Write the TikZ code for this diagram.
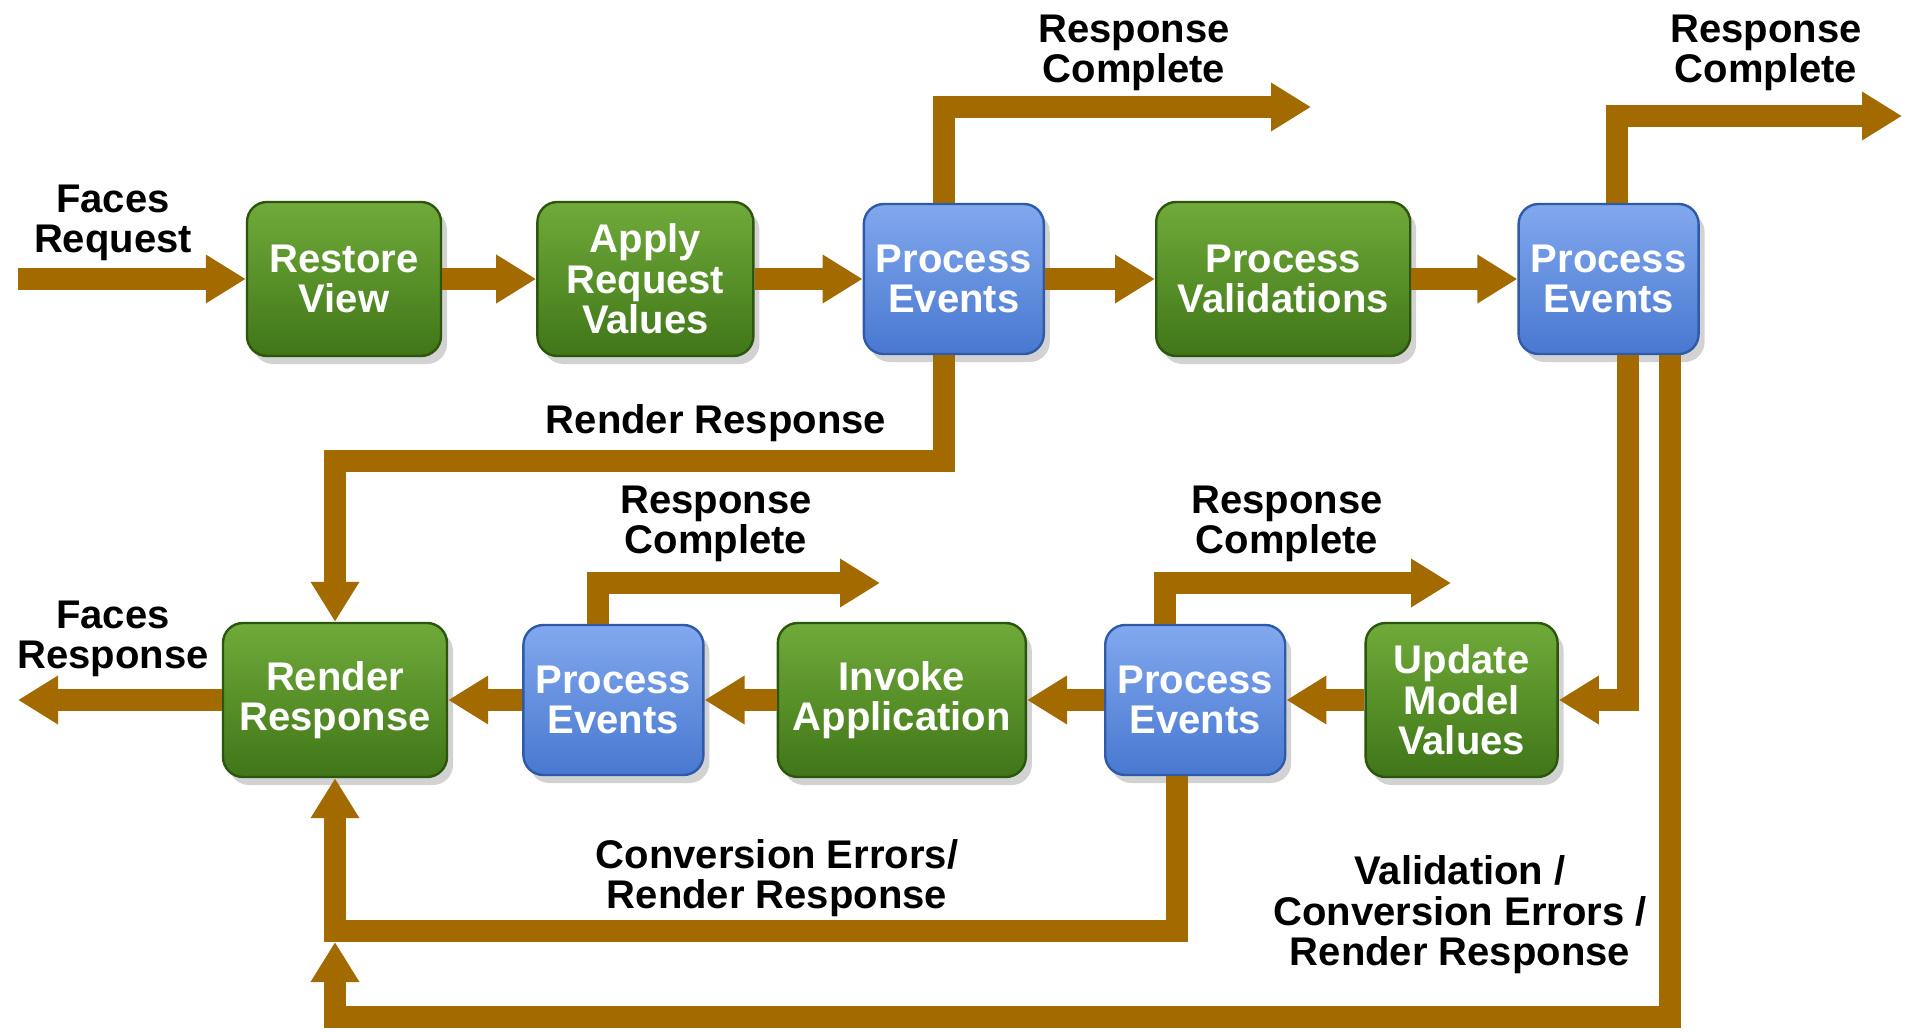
\documentclass[tikz,border=0pt]{standalone}
\usepackage{fontspec}
\setmainfont{Liberation Sans}
\usetikzlibrary{positioning,arrows.meta,shadows}

\definecolor{flowbrown}{RGB}{163,106,0}
\definecolor{phasetop}{RGB}{112,170,58}
\definecolor{phasebot}{RGB}{64,118,24}
\definecolor{phaseline}{RGB}{44,86,14}
\definecolor{eventtop}{RGB}{130,168,238}
\definecolor{eventbot}{RGB}{72,120,208}
\definecolor{eventline}{RGB}{46,90,168}

\tikzset{
  box/.style={rounded corners=10pt, line width=1.2pt, align=center, text=white,
    font=\bfseries\fontsize{20}{20.3}\selectfont, inner sep=4pt,
    drop shadow={shadow xshift=3pt, shadow yshift=-4pt, opacity=0.35}},
  phase/.style={box, draw=phaseline, top color=phasetop, bottom color=phasebot,
    minimum height=77pt},
  events/.style={box, draw=eventline, top color=eventtop, bottom color=eventbot,
    minimum height=75pt, minimum width=90pt},
  note/.style={align=center, font=\bfseries\fontsize{20}{20.3}\selectfont},
  flow/.style={draw=flowbrown, line width=11pt, -{Triangle[width=23pt,length=20pt]}},
}

\begin{document}
\begin{tikzpicture}[x=0.5pt,y=-0.5pt]
    \useasboundingbox[fill=white] (0,0) rectangle (1912,1032);

    % Top row
    \node[phase, minimum width=97pt]                    (rv)  at (344,279) {Restore\\View};
    \node[phase, minimum width=108pt, right=47pt of rv]  (arv) {Apply\\Request\\Values};
    \node[events, right=54pt of arv]                    (pe1) {Process\\Events};
    \node[phase, minimum width=127pt, right=55pt of pe1] (pv)  {Process\\Validations};
    \node[events, right=53pt of pv]                     (pe2) {Process\\Events};

    % Bottom row
    \node[phase, minimum width=112pt]                   (rr)  at (335,700) {Render\\Response};
    \node[events, right=37pt of rr]                     (pe3) {Process\\Events};
    \node[phase, minimum width=124pt, right=36pt of pe3] (ia)  {Invoke\\Application};
    \node[events, right=38.5pt of ia]                   (pe4) {Process\\Events};
    \node[phase, minimum width=96pt, right=39pt of pe4]  (umv) {Update\\Model\\Values};

    % Free ends and corners
    \coordinate (req)     at (18,279);
    \coordinate (resp)    at (18,700);
    \coordinate (done1)   at (1311,107);
    \coordinate (done2)   at (1902,116);
    \coordinate (done3)   at (880,583);
    \coordinate (done4)   at (1451,583);
    \coordinate (skip)    at (335,461);
    \coordinate (err1)    at (335,931);
    \coordinate (err2)    at (335,1017);
    \coordinate (err2end) at (335,942);

    % Labels
    \node[note] (l-req)   at (113,223)  {Faces\\Request};
    \node[note] (l-resp)  at (113,639)  {Faces\\Response};
    \node[note] (l-done1) at (1134,53)  {Response\\Complete};
    \node[note] (l-done2) at (1766,53)  {Response\\Complete};
    \node[note] (l-done3) at (716,524)  {Response\\Complete};
    \node[note] (l-done4) at (1287,524) {Response\\Complete};
    \node[note] (l-skip)  at (716,423)  {Render Response};
    \node[note] (l-err1)  at (777,878)  {Conversion Errors/\\Render Response};
    \node[note] (l-err2)  at (1460,915) {Validation /\\Conversion Errors /\\Render Response};

    % Connect the nodes
    \draw[flow] (req) -- (rv);
    \draw[flow] (rv) -- (arv);
    \draw[flow] (arv) -- (pe1);
    \draw[flow] (pe1) -- (pv);
    \draw[flow] (pv) -- (pe2);
    \draw[flow] (umv) -- (pe4);
    \draw[flow] (pe4) -- (ia);
    \draw[flow] (ia) -- (pe3);
    \draw[flow] (pe3) -- (rr);
    \draw[flow] (rr) -- (resp);

    % Response complete / skips
    \draw[flow] ([xshift=-5pt]pe1.north) |- (done1);
    \draw[flow] ([xshift=4pt]pe2.north) |- (done2);
    \draw[flow] ([xshift=-7.5pt]pe3.north) |- (done3);
    \draw[flow] ([xshift=-15pt]pe4.north) |- (done4);
    \draw[flow] ([xshift=-5pt]pe1.south) |- (skip) -- (rr.north);
    \draw[flow] ([xshift=9.5pt]pe2.south) |- (umv.east);
    \draw[flow] ([xshift=30.5pt]pe2.south) |- (err2) -- (err2end);
    \draw[flow] ([xshift=-9pt]pe4.south) |- (err1) -- (rr.south);

\end{tikzpicture}
\end{document}
